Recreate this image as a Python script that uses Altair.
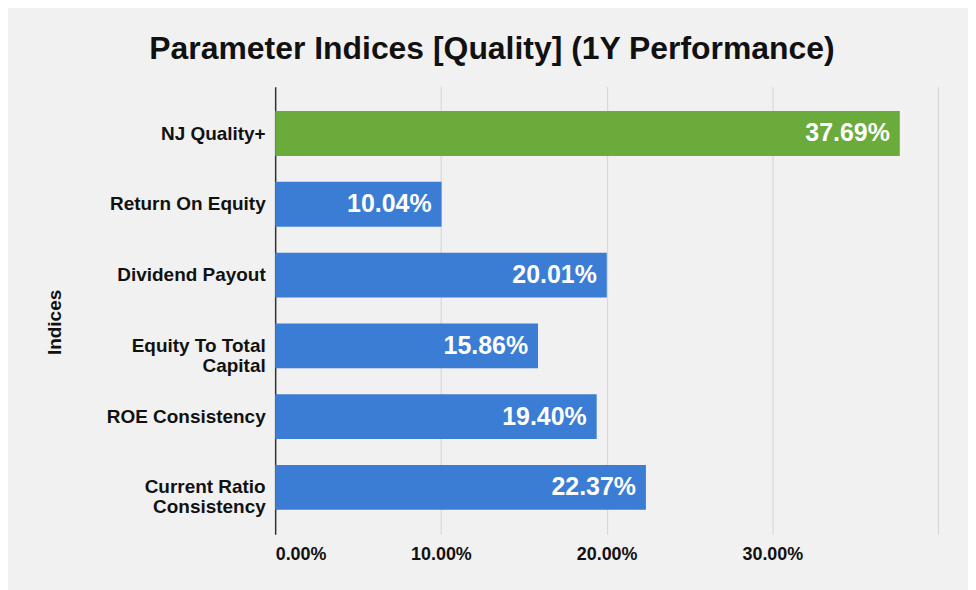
import altair as alt
import pandas as pd

categories = ["NJ Quality+", "Return On Equity", "Dividend Payout",
              "Equity To Total|Capital", "ROE Consistency", "Current Ratio|Consistency"]
values = [37.69, 10.04, 20.01, 15.86, 19.40, 22.37]
groups = ["nj", "param", "param", "param", "param", "param"]
tick_values = [0, 10, 20, 30, 40]

df = pd.DataFrame({"Index": categories, "Return": values, "Group": groups})
df["Label"] = df["Return"].map(lambda v: f"{v:.2f}%")

FONT = "Liberation Sans"

y_enc = alt.Y("Index:N", sort=categories,
              scale=alt.Scale(paddingInner=0.366, paddingOuter=0.345),
              axis=alt.Axis(title="Indices", labelExpr="split(datum.label, '|')",
                            labelFont=FONT, labelFontSize=19, labelFontWeight="bold",
                            labelColor="#111", labelPadding=10, ticks=False,
                            labelLineHeight=20,
                            domainColor="#333", domainWidth=1.5,
                            titleFont=FONT, titleFontSize=19, titleFontWeight="bold",
                            titleColor="#111", titleX=-211, titleY=236, grid=False))

x_enc = alt.X("Return:Q",
              scale=alt.Scale(domain=[0, 40], nice=False),
              axis=alt.Axis(title=None, values=tick_values,
                            labelExpr="datum.value >= 40 ? '' : format(datum.value, '.2f') + '%'",
                            labelFont=FONT, labelFontSize=18, labelFontWeight="bold",
                            labelColor="#111", labelPadding=11, ticks=False, domain=False,
                            grid=True, gridColor="#d4d4d4", gridWidth=1))

bars = alt.Chart(df).mark_bar().encode(
    y=y_enc, x=x_enc,
    color=alt.Color("Group:N", scale=alt.Scale(domain=["nj", "param"],
                                               range=["#6aab3b", "#3b7dd4"]), legend=None),
)

text = alt.Chart(df).mark_text(align="right", dx=-10, color="white", font=FONT,
                               fontSize=25, fontWeight="bold").encode(
    y=alt.Y("Index:N", sort=categories), x="Return:Q", text="Label:N")

chart = (bars + text).properties(
    width=665, height=449,
    title=alt.Title("Parameter Indices [Quality] (1Y Performance)", font=FONT,
                    fontSize=32, fontWeight="bold", color="#111", anchor="middle",
                    frame="bounds", offset=21),
    background="#f1f1f1",
    padding={"left": 37, "top": 24, "right": 30, "bottom": 26},
).configure_view(stroke=None)

chart.save("out.html", embed_options={"renderer": "svg", "actions": False})
